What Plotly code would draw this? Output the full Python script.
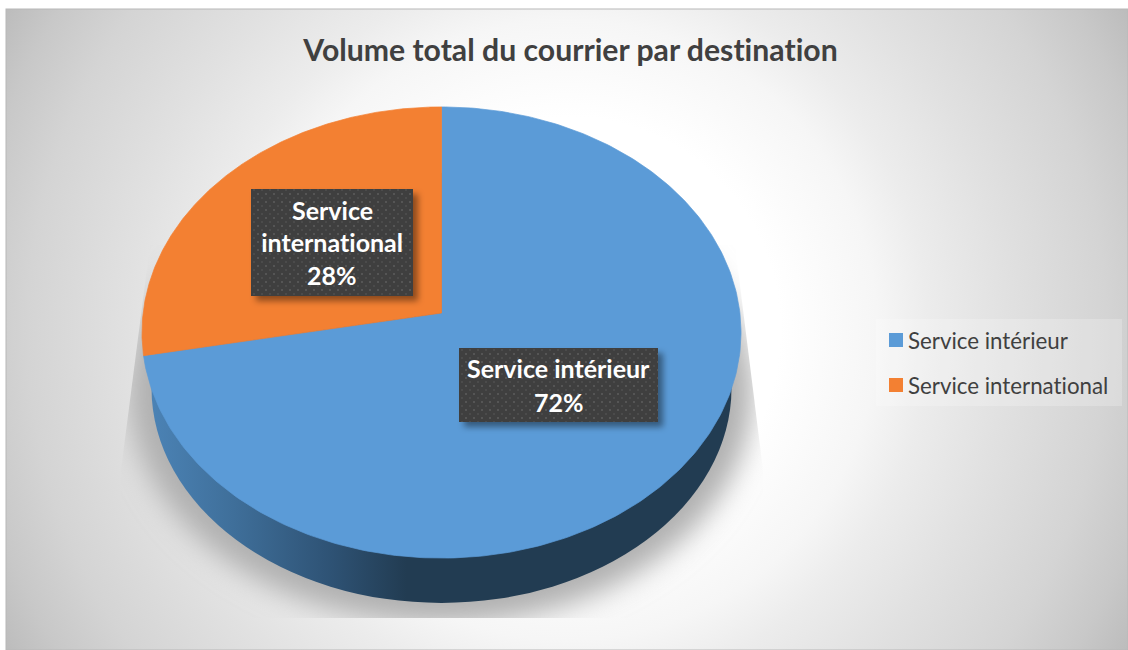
import base64
import numpy as np
import plotly.graph_objects as go

TITLE = "Volume total du courrier par destination"
categories = ["Service intérieur", "Service international"]
values = [72, 28]
label_lines = [["Service intérieur", "72%"], ["Service", "international", "28%"]]
colors = ["#5B9BD7", "#F38032"]

W, H = 1128, 650
APEX_X, APEX_Y = 441.5, 313.0
A, B, K = 223.9, 298.4, 0.0865      # perspective of the top face
FONT = "Lato"


def project(theta):
    u, v = np.sin(theta), np.cos(theta)
    d = 1 + K * v
    return APEX_X + B * u / d, APEX_Y - A * v / d


def svg_uri(body):
    svg = f'<svg xmlns="http://www.w3.org/2000/svg" width="{W}" height="{H}" viewBox="0 0 {W} {H}">{body}</svg>'
    return "data:image/svg+xml;base64," + base64.b64encode(svg.encode()).decode()


background = f'''
<defs>
<radialGradient id="bg" gradientUnits="userSpaceOnUse" cx="567" cy="330" r="646">
<stop offset="0" stop-color="#ffffff"/><stop offset="0.33" stop-color="#ffffff"/>
<stop offset="0.48" stop-color="#f6f6f6"/><stop offset="0.56" stop-color="#ececec"/>
<stop offset="0.68" stop-color="#e1e1e1"/><stop offset="0.835" stop-color="#d4d4d4"/>
<stop offset="0.93" stop-color="#c8c8c8"/><stop offset="1" stop-color="#bcbcbc"/></radialGradient>
<linearGradient id="wall" gradientUnits="userSpaceOnUse" x1="145" y1="0" x2="420" y2="0">
<stop offset="0" stop-color="#4C84B7"/><stop offset="0.32" stop-color="#3F6F9A"/>
<stop offset="0.68" stop-color="#2E5274"/><stop offset="0.95" stop-color="#223C52"/>
<stop offset="1" stop-color="#223C52"/></linearGradient>
<filter id="blur" x="-20%" y="-20%" width="140%" height="140%"><feGaussianBlur stdDeviation="14"/></filter>
<clipPath id="shadowclip"><path d="M150 245 L735 245 L763 470 L763 618 L121 618 L121 470 Z"/></clipPath>
</defs>
<rect x="6" y="9" width="1122" height="641" fill="url(#bg)" stroke="#b8b8b8" stroke-width="1"/>
<g clip-path="url(#shadowclip)"><ellipse cx="441" cy="392" rx="312" ry="232" fill="#b0b0b0" filter="url(#blur)"/></g>
<ellipse cx="441.5" cy="388" rx="290" ry="215" fill="url(#wall)"/>
'''

boxes = f'''
<defs>
<pattern id="dots" patternUnits="userSpaceOnUse" width="8" height="8">
<rect width="8" height="8" fill="#3F3F3F"/><rect x="1" y="1" width="2" height="2" fill="#555555"/>
<rect x="5" y="5" width="2" height="2" fill="#4B4B4B"/></pattern>
<filter id="sh" x="-10%" y="-10%" width="125%" height="125%"><feGaussianBlur stdDeviation="3"/></filter>
</defs>
<rect x="256" y="194" width="162" height="107" fill="#000" fill-opacity="0.42" filter="url(#sh)"/>
<rect x="464" y="353" width="199" height="74" fill="#000" fill-opacity="0.42" filter="url(#sh)"/>
<rect x="251" y="189" width="162" height="107" fill="url(#dots)"/>
<rect x="459" y="348" width="199" height="74" fill="url(#dots)"/>
'''

fig = go.Figure()

edges = np.cumsum([0] + values) / sum(values) * 2 * np.pi
for i, (name, color) in enumerate(zip(categories, colors)):
    t = np.linspace(edges[i], edges[i + 1], 300)
    x, y = project(t)
    fig.add_trace(go.Scatter(
        x=[APEX_X, *x, APEX_X], y=[APEX_Y, *y, APEX_Y], mode="lines", fill="toself",
        fillcolor=color, line=dict(width=0.7, color=color), name=name,
        hoverinfo="name", showlegend=False))

for i, (name, color) in enumerate(zip(categories, colors)):
    fig.add_trace(go.Scatter(
        x=[None], y=[None], mode="markers", name=name, legendgroup=name,
        marker=dict(symbol="square", size=14, color=color)))

annotations = []
centres = [(558.5, [368, 402]), (332, [210, 241.5, 275])]
for (cx, ys), lines in zip(centres, label_lines):
    for yy, line in zip(ys, lines):
        annotations.append(dict(x=cx, y=yy, xref="x", yref="y", text=f"<b>{line}</b>", showarrow=False,
                                font=dict(family=FONT, size=25, color="#FFFFFF"),
                                xanchor="center", yanchor="middle"))

fig.update_layout(
    width=W, height=H, margin=dict(l=0, r=0, t=0, b=0), autosize=False,
    paper_bgcolor="#FFFFFF", plot_bgcolor="rgba(0,0,0,0)",
    xaxis=dict(range=[0, W], visible=False, fixedrange=True, domain=[0, 1]),
    yaxis=dict(range=[H, 0], visible=False, fixedrange=True, domain=[0, 1]),
    title=dict(text=f"<b>{TITLE}</b>", x=570.5 / W, xanchor="center", y=1 - 50 / H, yanchor="middle",
               yref="container", font=dict(family=FONT, size=30.2, color="#404040")),
    legend=dict(x=876 / W, y=1 - 319 / H, xanchor="left", yanchor="top", bgcolor="rgba(255,255,255,0.22)",
                font=dict(family=FONT, size=22.3, color="#404040"), tracegroupgap=13,
                entrywidth=212, entrywidthmode="pixels", itemclick=False, itemdoubleclick=False),
    images=[
        dict(source=svg_uri(background), xref="paper", yref="paper", x=0, y=1, sizex=1, sizey=1,
             xanchor="left", yanchor="top", sizing="stretch", layer="below"),
        dict(source=svg_uri(boxes), xref="paper", yref="paper", x=0, y=1, sizex=1, sizey=1,
             xanchor="left", yanchor="top", sizing="stretch", layer="above"),
    ],
    annotations=annotations,
)

fig.write_html("out.html", config={"displayModeBar": False},
               post_script="document.body.style.margin='0';document.body.style.overflow='hidden';"
                           "document.querySelectorAll('svg text').forEach(function(t){t.style.fontVariantLigatures='none';});"
                           "document.querySelectorAll('.legendtext').forEach(function(t){t.setAttribute('x','32');});")
